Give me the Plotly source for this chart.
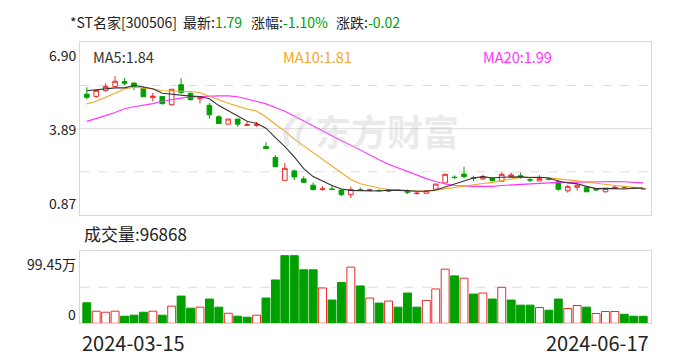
import plotly.graph_objects as go

# ---------------- data ----------------
date_labels = ["2024-03-15", "2024-06-17"]
stock_name = "*ST名家[300506]"
latest = "1.79"
pct_change = "-1.10%"
abs_change = "-0.02"
ma_labels = ["MA5:1.84", "MA10:1.81", "MA20:1.99"]
vol_label = "成交量:96868"
price_ticks = ["6.90", "3.89", "0.87"]
price_range = [0.87, 6.90]
vol_ticks = ["99.45万", "0"]
vol_max = 99.45  # 万

open_ = [5.09, 5.01, 5.21, 5.36, 5.53, 5.48, 5.28, 4.97, 5.01, 4.72,
         5.42, 5.12, 4.93, 4.70, 4.30, 4.04, 4.22, 4.00, 4.00, 3.26,
         2.88, 2.08, 2.41, 2.13, 1.91, 1.76, 1.78, 1.74, 1.58, 1.75,
         1.73, 1.73, 1.70, 1.74, 1.72, 1.62, 1.63, 1.77, 1.99, 2.19,
         2.30, 2.17, 2.13, 2.16, 2.05, 2.21, 2.24, 2.10, 2.06, 2.13,
         2.03, 1.72, 1.84, 1.84, 1.77, 1.68, 1.80, 1.82, 1.82, 1.78]
high = [5.33, 5.23, 5.47, 5.72, 5.65, 5.48, 5.36, 5.13, 5.01, 5.26,
        5.65, 5.14, 5.02, 4.78, 4.36, 4.22, 4.22, 4.12, 4.12, 3.41,
        2.96, 2.69, 2.46, 2.22, 2.00, 1.88, 1.88, 1.79, 1.86, 1.83,
        1.79, 1.76, 1.76, 1.77, 1.76, 1.67, 1.73, 1.95, 2.32, 2.25,
        2.55, 2.24, 2.28, 2.18, 2.36, 2.35, 2.35, 2.16, 2.26, 2.15,
        2.09, 1.92, 1.98, 1.86, 1.80, 1.80, 1.90, 1.86, 1.84, 1.80]
low = [4.90, 4.97, 5.17, 5.36, 5.40, 5.23, 5.00, 4.84, 4.72, 4.69,
       5.10, 4.86, 4.77, 4.23, 4.06, 4.04, 3.95, 3.99, 3.95, 3.19,
       2.56, 2.08, 2.09, 2.01, 1.72, 1.72, 1.74, 1.53, 1.46, 1.72,
       1.69, 1.70, 1.68, 1.71, 1.60, 1.58, 1.62, 1.77, 1.98, 2.13,
       2.15, 2.05, 2.09, 2.03, 2.05, 2.21, 2.14, 2.02, 2.06, 2.08,
       1.72, 1.65, 1.72, 1.68, 1.72, 1.66, 1.79, 1.80, 1.79, 1.76]
close = [4.98, 5.22, 5.36, 5.54, 5.47, 5.35, 5.00, 5.02, 4.76, 5.26,
         5.15, 4.90, 4.96, 4.37, 4.06, 4.22, 4.04, 4.02, 4.03, 3.19,
         2.56, 2.50, 2.20, 2.01, 1.76, 1.78, 1.76, 1.58, 1.76, 1.73,
         1.75, 1.72, 1.75, 1.73, 1.66, 1.63, 1.72, 1.95, 2.29, 2.18,
         2.21, 2.15, 2.21, 2.07, 2.29, 2.27, 2.18, 2.09, 2.14, 2.11,
         1.77, 1.86, 1.91, 1.68, 1.75, 1.80, 1.84, 1.83, 1.81, 1.79]
prev_close_first = 5.05

volume = [28.3, 16.7, 15.3, 16.7, 9.8, 11.2, 15.3, 16.7, 11.2, 23.7,
          37.6, 20.9, 22.3, 33.5, 22.3, 13.9, 9.8, 8.4, 11.2, 34.9,
          59.9, 93.4, 93.4, 73.9, 73.9, 48.8, 32.1, 56.2, 77.6, 51.6,
          34.9, 27.9, 30.7, 22.3, 41.8, 22.3, 31.6, 47.4, 74.8, 65.5,
          62.3, 40.4, 41.8, 33.5, 49.7, 32.1, 25.1, 25.1, 21.8, 18.1,
          33.5, 20.4, 24.6, 22.3, 13.5, 16.3, 16.3, 12.5, 9.8, 9.6868]

ma5 = [5.21, 5.25, 5.28, 5.31, 5.31, 5.39, 5.34, 5.28, 5.12, 5.08,
       5.04, 5.02, 5.01, 4.93, 4.69, 4.50, 4.33, 4.14, 4.07, 3.90,
       3.57, 3.26, 2.90, 2.49, 2.21, 2.05, 1.90, 1.78, 1.73, 1.72,
       1.72, 1.71, 1.74, 1.74, 1.72, 1.70, 1.70, 1.74, 1.85, 1.95,
       2.07, 2.16, 2.21, 2.16, 2.19, 2.20, 2.20, 2.18, 2.19, 2.16,
       2.06, 1.99, 1.96, 1.87, 1.79, 1.80, 1.80, 1.78, 1.81, 1.81]
ma10 = [4.75, 4.84, 4.98, 5.13, 5.27, 5.33, 5.30, 5.27, 5.21, 5.20,
        5.21, 5.18, 5.14, 5.02, 4.88, 4.77, 4.67, 4.57, 4.50, 4.29,
        4.04, 3.80, 3.52, 3.28, 3.05, 2.81, 2.58, 2.34, 2.11, 1.96,
        1.88, 1.81, 1.76, 1.73, 1.72, 1.71, 1.70, 1.74, 1.79, 1.84,
        1.88, 1.93, 1.97, 2.01, 2.07, 2.13, 2.18, 2.19, 2.18, 2.17,
        2.13, 2.10, 2.07, 2.03, 1.98, 1.93, 1.90, 1.87, 1.84, 1.80]
ma20 = [4.14, 4.23, 4.34, 4.45, 4.58, 4.65, 4.70, 4.76, 4.84, 4.90,
        4.95, 4.99, 5.01, 5.01, 5.03, 5.03, 5.00, 4.92, 4.84, 4.75,
        4.62, 4.49, 4.33, 4.15, 3.97, 3.79, 3.63, 3.46, 3.31, 3.13,
        2.96, 2.80, 2.64, 2.51, 2.39, 2.26, 2.14, 2.04, 1.95, 1.90,
        1.88, 1.87, 1.87, 1.87, 1.90, 1.92, 1.94, 1.97, 1.99, 2.00,
        2.01, 2.01, 2.02, 2.02, 2.02, 2.03, 2.04, 2.03, 2.01, 1.99]

# ---------------- style ----------------
RED = "#ee2a2a"
GREEN = "#00a000"
MA5_C = "#333333"
MA10_C = "#f5a623"
MA20_C = "#ff33ff"
BORDER = "#d6d6dc"
GRID = "#dddddd"
WM = "rgba(195,195,205,0.35)"
FONT = "Microsoft YaHei, Noto Sans CJK SC, sans-serif"
W, H = 688, 360

x = list(range(len(close)))
prev = [prev_close_first] + close[:-1]
vol_up = [c >= p for c, p in zip(close, prev)]
vol_fill = ["white" if u else GREEN for u in vol_up]
vol_line = [RED if u else GREEN for u in vol_up]

fig = go.Figure()

fig.add_trace(go.Candlestick(
    x=x, open=open_, high=high, low=low, close=close,
    increasing=dict(line=dict(color=RED, width=1), fillcolor="white"),
    decreasing=dict(line=dict(color=GREEN, width=1), fillcolor=GREEN),
    whiskerwidth=0, xaxis="x", yaxis="y", showlegend=False, hoverinfo="skip"))

for vals, col in [(ma20, MA20_C), (ma10, MA10_C), (ma5, MA5_C)]:
    fig.add_trace(go.Scatter(x=x, y=vals, mode="lines",
                             line=dict(color=col, width=1.1),
                             xaxis="x", yaxis="y", showlegend=False, hoverinfo="skip"))

fig.add_trace(go.Bar(
    x=x, y=volume, width=0.84,
    marker=dict(color=vol_fill, line=dict(color=vol_line, width=1)),
    xaxis="x2", yaxis="y2", showlegend=False, hoverinfo="skip"))

xl, xr = 80.3, 651.3
p_top, p_bot = 42.3, 215.0
v_top, v_bot = 251.3, 323.3
xdom = [xl / W, xr / W]
xrange_ = [-0.69, len(close) - 1 + 0.86]

axis_common = dict(showline=True, mirror=True, linecolor=BORDER, linewidth=1,
                   showgrid=False, zeroline=False, ticks="", showticklabels=False,
                   fixedrange=True)

fig.update_layout(
    width=W, height=H, autosize=False,
    margin=dict(l=0, r=0, t=0, b=0),
    paper_bgcolor="white", plot_bgcolor="white",
    font=dict(family=FONT),
    xaxis=dict(domain=xdom, range=xrange_, anchor="y", rangeslider=dict(visible=False), **axis_common),
    yaxis=dict(domain=[(H - p_bot) / H, (H - p_top) / H], range=price_range, anchor="x", **axis_common),
    xaxis2=dict(domain=xdom, range=xrange_, anchor="y2", **axis_common),
    yaxis2=dict(domain=[(H - v_bot) / H, (H - v_top) / H], range=[0, vol_max], anchor="x2", **axis_common),
    bargap=0,
)

def py(ypix):
    return (H - ypix) / H

shapes = []
for yy, dash in [(0.25, "dash"), (0.5, "solid"), (0.75, "dash")]:
    shapes.append(dict(type="line", xref="x domain", yref="y domain", x0=0, x1=1, y0=yy, y1=yy,
                       line=dict(color=GRID, width=1, dash=dash), layer="below"))
shapes.append(dict(type="line", xref="x2 domain", yref="y2 domain", x0=0, x1=1, y0=0.5, y1=0.5,
                   line=dict(color=GRID, width=1, dash="dash"), layer="below"))
# watermark logo swoosh (decoration)
def pp(px, pyy):
    return "%.4f,%.4f" % (px / W, py(pyy))
shapes.append(dict(type="path", xref="paper", yref="paper",
                   path="M %s Q %s %s" % (pp(300, 114), pp(280, 128), pp(288, 146)),
                   line=dict(color=WM, width=5), layer="above"))
shapes.append(dict(type="path", xref="paper", yref="paper",
                   path="M %s Q %s %s" % (pp(311, 118), pp(293, 130), pp(300, 146)),
                   line=dict(color=WM, width=4), layer="above"))
fig.update_layout(shapes=shapes)

ann = []
def A(text, x, y, xanchor="left", yanchor="middle", size=14, color="#222222", **kw):
    d = dict(text=text, x=x, y=y, xanchor=xanchor, yanchor=yanchor, showarrow=False,
             font=dict(size=size, color=color, family=FONT))
    d.update(kw)
    if "xref" not in d:
        d["xref"] = "paper"
    if "yref" not in d:
        d["yref"] = "paper"
    ann.append(d)

# title
A(stock_name, 67.5 / W, py(22), size=14)
A("最新:<span style='color:%s'>%s</span>" % (GREEN, latest), 181 / W, py(22), size=14)
A("涨幅:<span style='color:%s'>%s</span>" % (GREEN, pct_change), 249 / W, py(22), size=14)
A("涨跌:<span style='color:%s'>%s</span>" % (GREEN, abs_change), 334 / W, py(22), size=14)

# MA labels
for txt, xp, col in zip(ma_labels, [90.5, 280.5, 480.5], [MA5_C, MA10_C, MA20_C]):
    A(txt, xp / W, py(56), size=14.5, color=col)

# price tick labels
A(price_ticks[0], 78 / W, 1, xanchor="right", yanchor="top", yref="y domain", size=14, yshift=-1)
A(price_ticks[1], 78 / W, 0.5, xanchor="right", yanchor="middle", yref="y domain", size=14)
A(price_ticks[2], 78 / W, 0, xanchor="right", yanchor="bottom", yref="y domain", size=14)

# volume labels
A(vol_label, 82 / W, py(233.5), size=17)
A(vol_ticks[0], 78 / W, 1, xanchor="right", yanchor="top", yref="y2 domain", size=14, yshift=-1)
A(vol_ticks[1], 78 / W, 0, xanchor="right", yanchor="bottom", yref="y2 domain", size=14, yshift=-3)

# dates
A(date_labels[0], xl / W, py(342), size=20)
A(date_labels[1], xr / W, py(342), xanchor="right", size=20)

# watermark text
A("<b>东方财富</b>", 313 / W, py(130), size=36, color=WM)

fig.update_layout(annotations=ann)

fig.write_html("out.html",
               config={"displayModeBar": False, "staticPlot": True},
               post_script="document.body.style.margin='0';document.body.style.padding='0';")
